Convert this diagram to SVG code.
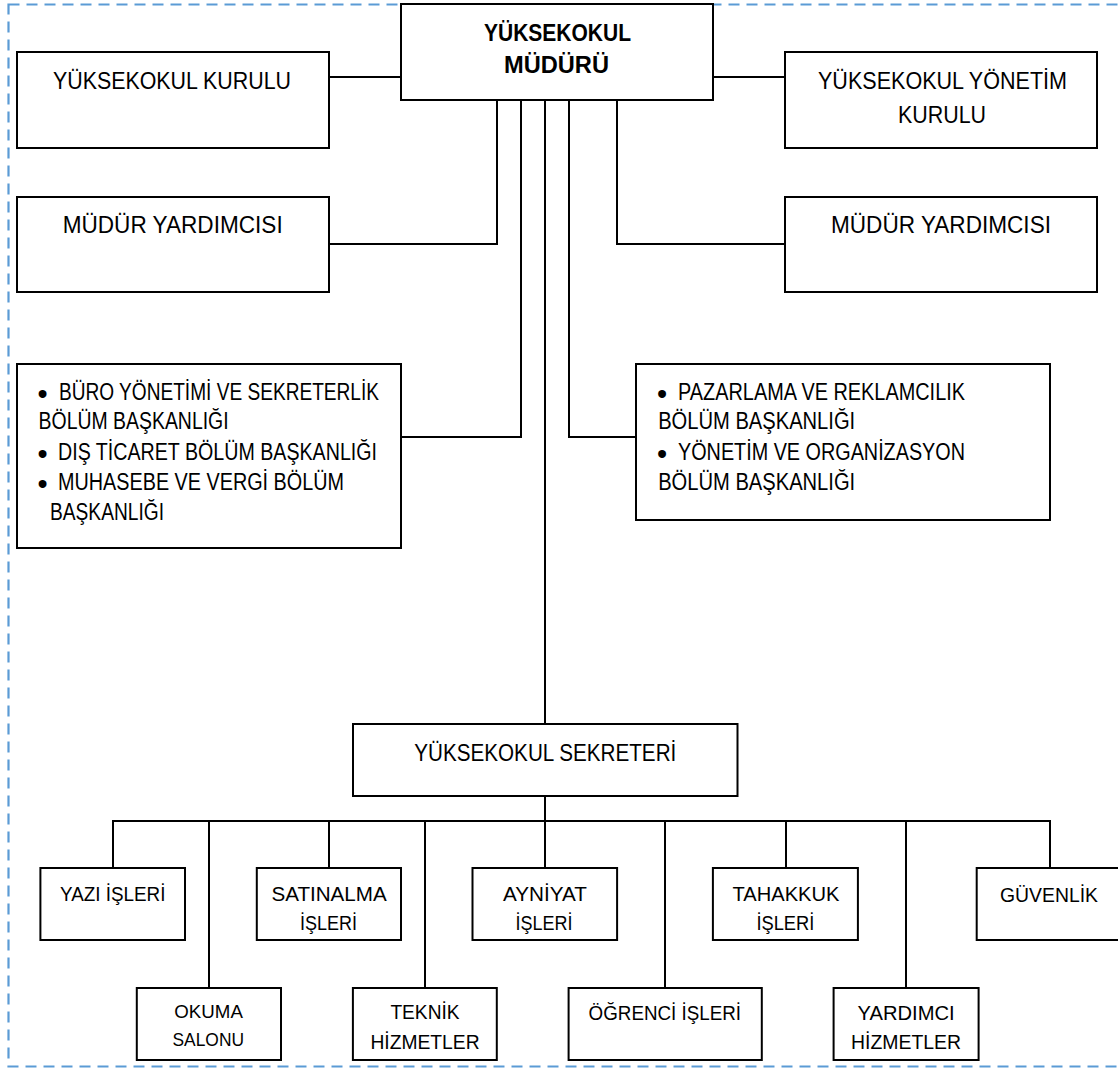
<svg xmlns="http://www.w3.org/2000/svg" width="1118" height="1068" viewBox="0 0 1118 1068">
<style>
.box{fill:#fff;stroke:#000;stroke-width:2}
.ln{fill:none;stroke:#000;stroke-width:2}
.t{font-family:"Liberation Sans",Arial,sans-serif;font-size:23px;fill:#000}
.b{font-weight:bold}
.s{font-size:20px}
.xs{font-size:18.5px}
.bul{font-size:29px}
</style>
<rect x="8.5" y="4.5" width="1130" height="1062" fill="none" stroke="#5B9BD5" stroke-width="2.2" stroke-dasharray="11 7"/>
<g id="connectors">
<path class="ln" d="M329 77H401"/>
<path class="ln" d="M713 77H785"/>
<path class="ln" d="M497 100V244H329"/>
<path class="ln" d="M617 100V244H785"/>
<path class="ln" d="M521 100V437H401"/>
<path class="ln" d="M569 100V437H636"/>
<path class="ln" d="M545 100V724"/>
<path class="ln" d="M545 796V821"/>
<path class="ln" d="M113 868V821H1050V868"/>
<path class="ln" d="M209 821V988"/>
<path class="ln" d="M329 821V868"/>
<path class="ln" d="M425 821V988"/>
<path class="ln" d="M545 821V868"/>
<path class="ln" d="M665 821V988"/>
<path class="ln" d="M786 821V868"/>
<path class="ln" d="M906 821V988"/>
</g>
<g id="mudur">
<rect class="box" x="401" y="4" width="312" height="96"/>
<text class="t b" x="484" y="41.3" textLength="147" lengthAdjust="spacingAndGlyphs">YÜKSEKOKUL</text>
<text class="t b" x="504" y="73.3" textLength="105" lengthAdjust="spacingAndGlyphs">MÜDÜRÜ</text>
</g>
<g id="kurulu">
<rect class="box" x="17" y="52" width="312" height="96"/>
<text class="t" x="53" y="89.3" textLength="238" lengthAdjust="spacingAndGlyphs">YÜKSEKOKUL KURULU</text>
</g>
<g id="yonetim-kurulu">
<rect class="box" x="785" y="52" width="312" height="96"/>
<text class="t" x="818" y="89.3" textLength="249" lengthAdjust="spacingAndGlyphs">YÜKSEKOKUL YÖNETİM</text>
<text class="t" x="898" y="123.3" textLength="88" lengthAdjust="spacingAndGlyphs">KURULU</text>
</g>
<g id="mudur-yrd-1">
<rect class="box" x="17" y="197" width="312" height="95"/>
<text class="t" x="62.7" y="233.3" textLength="220" lengthAdjust="spacingAndGlyphs">MÜDÜR YARDIMCISI</text>
</g>
<g id="mudur-yrd-2">
<rect class="box" x="785" y="197" width="312" height="95"/>
<text class="t" x="831" y="233.3" textLength="220" lengthAdjust="spacingAndGlyphs">MÜDÜR YARDIMCISI</text>
</g>
<g id="bolumler-1">
<rect class="box" x="17" y="364" width="384" height="184"/>
<text class="t"><tspan class="bul" x="37.5" y="403.5">•</tspan><tspan x="59" y="400.3" textLength="320" lengthAdjust="spacingAndGlyphs">BÜRO YÖNETİMİ VE SEKRETERLİK</tspan></text>
<text class="t" x="38.6" y="429.3" textLength="190" lengthAdjust="spacingAndGlyphs">BÖLÜM BAŞKANLIĞI</text>
<text class="t"><tspan class="bul" x="37.5" y="463.5">•</tspan><tspan x="58" y="460" textLength="319" lengthAdjust="spacingAndGlyphs">DIŞ TİCARET BÖLÜM BAŞKANLIĞI</tspan></text>
<text class="t"><tspan class="bul" x="37.5" y="493.5">•</tspan><tspan x="58" y="490" textLength="286" lengthAdjust="spacingAndGlyphs">MUHASEBE VE VERGİ BÖLÜM</tspan></text>
<text class="t" x="50" y="520" textLength="114" lengthAdjust="spacingAndGlyphs">BAŞKANLIĞI</text>
</g>
<g id="bolumler-2">
<rect class="box" x="636" y="364" width="414" height="156"/>
<text class="t"><tspan class="bul" x="657" y="403.5">•</tspan><tspan x="678" y="400" textLength="287" lengthAdjust="spacingAndGlyphs">PAZARLAMA VE REKLAMCILIK</tspan></text>
<text class="t" x="658.2" y="429.3" textLength="197" lengthAdjust="spacingAndGlyphs">BÖLÜM BAŞKANLIĞI</text>
<text class="t"><tspan class="bul" x="657" y="463.5">•</tspan><tspan x="678" y="460" textLength="287" lengthAdjust="spacingAndGlyphs">YÖNETİM VE ORGANİZASYON</tspan></text>
<text class="t" x="658.2" y="490" textLength="197" lengthAdjust="spacingAndGlyphs">BÖLÜM BAŞKANLIĞI</text>
</g>
<g id="sekreter">
<rect class="box" x="353" y="724" width="384.5" height="72"/>
<text class="t" x="414.3" y="761" textLength="262" lengthAdjust="spacingAndGlyphs">YÜKSEKOKUL SEKRETERİ</text>
</g>
<g id="yazi-isleri">
<rect class="box" x="40.4" y="868" width="144.6" height="72"/>
<text class="t s" x="60" y="900.7" textLength="105.4" lengthAdjust="spacingAndGlyphs">YAZI İŞLERİ</text>
</g>
<g id="satinalma">
<rect class="box" x="256.8" y="868" width="144.2" height="72"/>
<text class="t s" x="271.4" y="900.7" textLength="115.4" lengthAdjust="spacingAndGlyphs">SATINALMA</text>
<text class="t s" x="300" y="930" textLength="57" lengthAdjust="spacingAndGlyphs">İŞLERİ</text>
</g>
<g id="ayniyat">
<rect class="box" x="472.5" y="868" width="144.6" height="72"/>
<text class="t s" x="502.9" y="900.7" textLength="84" lengthAdjust="spacingAndGlyphs">AYNİYAT</text>
<text class="t s" x="515.4" y="930" textLength="57" lengthAdjust="spacingAndGlyphs">İŞLERİ</text>
</g>
<g id="tahakkuk">
<rect class="box" x="712.9" y="868" width="145" height="72"/>
<text class="t s" x="732.5" y="900.7" textLength="107" lengthAdjust="spacingAndGlyphs">TAHAKKUK</text>
<text class="t s" x="756.4" y="930" textLength="58" lengthAdjust="spacingAndGlyphs">İŞLERİ</text>
</g>
<g id="guvenlik">
<rect class="box" x="976.7" y="868" width="145" height="72"/>
<text class="t s" x="1000" y="901.7" textLength="98" lengthAdjust="spacingAndGlyphs">GÜVENLİK</text>
</g>
<g id="okuma-salonu">
<rect class="box" x="136.8" y="988" width="144.2" height="72"/>
<text class="t xs" x="174.3" y="1018.3" textLength="68.6" lengthAdjust="spacingAndGlyphs">OKUMA</text>
<text class="t xs" x="172.5" y="1046" textLength="71.5" lengthAdjust="spacingAndGlyphs">SALONU</text>
</g>
<g id="teknik-hizmetler">
<rect class="box" x="352.9" y="988" width="143.9" height="72"/>
<text class="t s" x="390.4" y="1019.3" textLength="69.2" lengthAdjust="spacingAndGlyphs">TEKNİK</text>
<text class="t s" x="370.4" y="1049.3" textLength="109.2" lengthAdjust="spacingAndGlyphs">HİZMETLER</text>
</g>
<g id="ogrenci-isleri">
<rect class="box" x="568.6" y="988" width="193.2" height="72"/>
<text class="t s" x="588.6" y="1020" textLength="152.4" lengthAdjust="spacingAndGlyphs">ÖĞRENCİ İŞLERİ</text>
</g>
<g id="yardimci-hizmetler">
<rect class="box" x="833.6" y="988" width="145" height="72"/>
<text class="t s" x="857.5" y="1020" textLength="97.1" lengthAdjust="spacingAndGlyphs">YARDIMCI</text>
<text class="t s" x="851" y="1049.3" textLength="110" lengthAdjust="spacingAndGlyphs">HİZMETLER</text>
</g>
</svg>
